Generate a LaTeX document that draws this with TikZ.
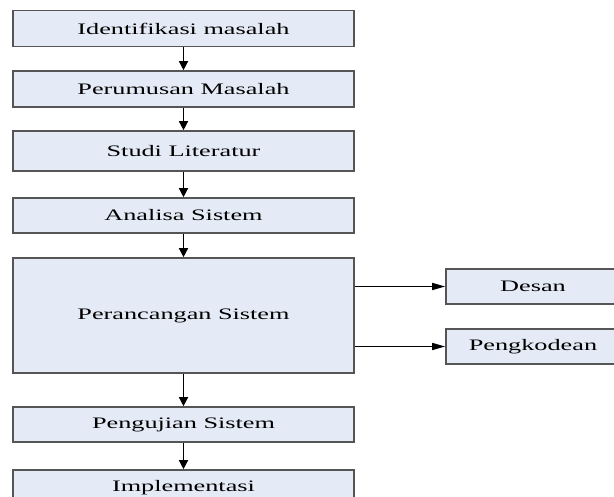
\documentclass[tikz,border=0pt]{standalone}
\usepackage{fontspec}
\setmainfont[FakeStretch=1.64]{Liberation Serif}
\usepackage{tikz}
\usetikzlibrary{arrows.meta}
\definecolor{boxfill}{RGB}{229,235,246}
\definecolor{boxline}{RGB}{85,85,85}
\tikzset{
    sbox/.style={rectangle,draw=boxline,fill=boxfill,line width=1.6pt,
        inner sep=0pt,font=\fontsize{16}{18}\selectfont},
    wbox/.style={sbox,minimum width=341pt},
    flow/.style={
        every edge/.style={draw,line width=1.4pt,-{Triangle[length=9pt,width=9pt]}},
    },
    side/.style={draw,line width=1.4pt,-{Triangle[length=13pt,width=7pt]}},
}
\begin{document}
\begin{tikzpicture}[x=1pt,y=-1pt,flow]
\clip (0,0) rectangle (614,497);
\node[wbox,minimum height=36pt]  (ident)   at (183.5,28.5)  {Identifikasi masalah};
\node[wbox,minimum height=36pt]  (rumus)   at (183.5,89)    {Perumusan Masalah};
\node[wbox,minimum height=40pt]  (studi)   at (183.5,151)   {Studi Literatur};
\node[wbox,minimum height=35pt]  (analisa) at (183.5,215.5) {Analisa Sistem};
\node[wbox,minimum height=115pt] (rancang) at (183.5,315.5) {Perancangan Sistem};
\node[sbox,minimum width=174pt,minimum height=35pt] (desan) at (533,286.5) {Desan};
\node[sbox,minimum width=174pt,minimum height=35pt] (kode)  at (533,346.5) {Pengkodean};
\node[wbox,minimum height=35pt]  (uji)     at (183.5,424.5) {Pengujian Sistem};
\node[wbox,minimum height=36pt]  (impl)    at (183.5,488)   {Implementasi};
\path
    (ident) edge (rumus)
    (rumus) edge (studi)
    (studi) edge (analisa)
    (analisa) edge (rancang)
    (rancang) edge (uji)
    (uji) edge (impl)
;
\draw[side] (rancang.east |- desan.west) -- (desan.west);
\draw[side] (rancang.east |- kode.west) -- (kode.west);
\end{tikzpicture}
\end{document}
